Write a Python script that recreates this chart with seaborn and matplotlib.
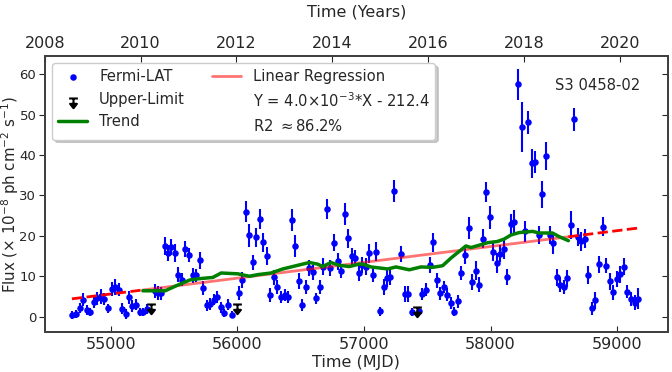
import numpy as np
import matplotlib
matplotlib.use("Agg")
import matplotlib.pyplot as plt
from matplotlib.path import Path
import seaborn as sns

# ---------------- data ----------------
mjd = [54695, 54726, 54755, 54785, 54811, 54840, 54866, 54892, 54924, 54950,
       54979, 55010, 55034, 55063, 55092, 55118, 55147, 55171, 55203, 55229,
       55258, 55286, 55347, 55373, 55400, 55426, 55452, 55479, 55510, 55536,
       55565, 55591, 55620, 55649, 55676, 55704, 55730, 55760, 55786, 55815,
       55841, 55870, 55899, 55928, 55957, 56012, 56039, 56067, 56094, 56122,
       56149, 56177, 56207, 56233, 56262, 56291, 56317, 56346, 56375, 56401,
       56430, 56457, 56485, 56514, 56540, 56569, 56598, 56625, 56654, 56680,
       56709, 56735, 56764, 56793, 56822, 56848, 56877, 56903, 56932, 56958,
       56987, 57016, 57043, 57072, 57098, 57127, 57155, 57182, 57208, 57240,
       57263, 57295, 57321, 57350, 57376, 57434, 57460, 57489, 57518, 57545,
       57573, 57600, 57629, 57658, 57684, 57713, 57742, 57768, 57797, 57826,
       57852, 57881, 57910, 57936, 57965, 57994, 58020, 58050, 58076, 58102,
       58131, 58160, 58186, 58215, 58244, 58271, 58299, 58326, 58354, 58383,
       58409, 58438, 58468, 58494, 58523, 58549, 58578, 58606, 58633, 58662,
       58691, 58717, 58746, 58772, 58801, 58827, 58856, 58885, 58912, 58941,
       58969, 58996, 59024, 59054, 59080, 59109, 59138, 59164]
flux = [0.5, 0.7, 2.1, 4.2, 1.6, 1.1, 3.6, 4.6, 5.0, 4.4,
        2.1, 6.8, 7.3, 6.7, 2.0, 0.7, 4.8, 2.7, 3.0, 1.1,
        1.2, 1.9, 6.3, 5.8, 5.8, 17.5, 15.7, 17.2, 15.7, 10.4,
        9.1, 16.8, 15.3, 10.2, 10.2, 13.9, 7.1, 2.8, 3.1, 4.2,
        4.9, 2.3, 0.9, 3.0, 0.5, 5.8, 9.1, 26.0, 20.1, 13.4,
        19.6, 24.2, 18.4, 15.0, 5.3, 9.7, 7.3, 4.8, 5.3, 4.8,
        23.9, 17.5, 8.9, 2.8, 7.3, 12.0, 11.0, 4.5, 7.3, 12.4,
        26.6, 12.0, 18.3, 13.7, 11.3, 25.4, 19.4, 14.9, 14.5, 10.9,
        12.8, 12.4, 15.7, 10.4, 16.1, 1.3, 7.3, 9.6, 9.7, 31.1,
        48.0, 15.5, 5.6, 5.6, 1.2, 1.5, 5.6, 6.7, 12.7, 18.4,
        9.0, 5.8, 7.3, 5.4, 3.4, 1.2, 3.8, 10.8, 15.3, 22.0,
        8.6, 11.4, 7.9, 19.3, 30.8, 24.6, 16.0, 13.3, 15.6, 16.7,
        9.8, 22.9, 23.5, 57.5, 47.0, 21.1, 48.1, 37.9, 38.2, 20.2,
        30.3, 39.7, 20.2, 18.2, 9.7, 7.9, 7.4, 9.5, 22.7, 48.8,
        19.8, 18.6, 19.3, 10.4, 2.1, 4.0, 13.0, 22.3, 12.6, 8.7,
        6.0, 9.3, 10.5, 12.4, 6.2, 4.4, 3.5, 4.4]
flux_err = [1.0, 1.0, 1.2, 1.6, 1.2, 1.0, 1.4, 1.6, 1.9, 1.5,
            1.1, 1.7, 1.9, 1.6, 1.3, 1.2, 1.6, 1.5, 1.4, 1.0,
            1.0, 1.2, 1.8, 1.8, 1.6, 2.2, 2.0, 2.0, 2.3, 1.8,
            1.6, 2.0, 1.8, 1.9, 1.7, 2.0, 1.8, 1.3, 1.5, 1.4,
            1.5, 1.3, 1.0, 1.3, 0.8, 1.8, 2.0, 2.5, 2.8, 1.9,
            2.4, 2.5, 2.3, 2.3, 1.7, 1.9, 1.8, 1.5, 1.5, 1.5,
            2.7, 2.8, 2.0, 1.5, 1.8, 2.0, 1.9, 1.4, 1.8, 2.1,
            2.4, 1.9, 2.1, 2.1, 1.8, 2.7, 2.4, 2.0, 2.0, 2.0,
            1.9, 2.0, 2.4, 1.9, 2.4, 1.1, 2.0, 2.2, 1.9, 2.7,
            4.5, 2.0, 1.9, 1.9, 1.0, 1.0, 1.5, 1.6, 2.0, 2.3,
            1.8, 1.6, 1.5, 1.6, 1.4, 1.1, 1.6, 1.8, 2.2, 2.7,
            1.9, 2.3, 1.8, 2.3, 2.5, 2.9, 2.2, 2.4, 2.1, 2.4,
            2.0, 2.6, 2.9, 3.8, 6.2, 2.6, 2.8, 3.6, 2.7, 2.2,
            3.3, 3.5, 2.3, 2.8, 2.0, 1.8, 1.7, 2.1, 3.5, 2.9,
            2.2, 2.4, 2.3, 2.2, 1.6, 2.0, 2.1, 2.3, 1.9, 2.2,
            1.9, 1.9, 2.1, 2.2, 1.6, 1.8, 1.9, 2.6]

ul_mjd = [55323, 55996, 57416]
ul_flux = [3.2, 3.2, 2.5]

trend_mjd = [55255, 55431, 55523, 55628, 55702, 55807, 55873, 56004, 56096,
             56162, 56267, 56359, 56464, 56569, 56635, 56674, 56740, 56806,
             56885, 56963, 56990, 57056, 57187, 57253, 57358, 57450, 57542,
             57621, 57687, 57766, 57805, 57845, 57923, 57976, 58054, 58107,
             58160, 58225, 58331, 58383, 58488, 58541, 58614]
trend_flux = [6.4, 6.4, 7.7, 9.1, 9.4, 9.7, 10.8, 10.6, 10.0,
              10.4, 10.8, 11.8, 12.6, 13.4, 13.0, 12.4, 13.4, 12.7,
              12.4, 13.0, 13.0, 12.3, 11.8, 12.3, 11.6, 12.3, 12.2,
              12.6, 14.5, 16.5, 17.5, 17.1, 17.8, 18.3, 18.6, 19.2,
              20.2, 20.8, 21.1, 20.7, 20.7, 19.8, 18.8]

fit_slope = 3.92e-3
fit_intercept = -210.0

year_ticks = [2008, 2010, 2012, 2014, 2016, 2018, 2020]
mjd_ticks = [55000, 56000, 57000, 58000, 59000]
flux_ticks = [0, 10, 20, 30, 40, 50, 60]
source_name = "S3 0458-02"
fit_label = "Y = 4.0$\\times$10$^{-3}$*X - 212.4"
r2_label = "R2 $\\approx$86.2%"

# ---------------- figure ----------------
sns.set_style("ticks")
plt.rcParams["font.family"] = ["DejaVu Sans"]
plt.rcParams["axes.edgecolor"] = "0.25"
plt.rcParams["axes.linewidth"] = 1.2

fig = plt.figure(figsize=(6.72, 3.72), dpi=100)
ax = fig.add_axes([0.0665, 0.1075, 0.9275, 0.742])

FS = 11.5
YFS = 9.5
LFS = 10.6

# upper-limit marker: bar on top, stem, filled arrow head below
ul_marker = Path(
    [(-0.45, 0.0), (0.45, 0.0), (0.0, 0.0), (0.0, -0.55),
     (-0.35, -0.55), (0.35, -0.55), (0.0, -1.0), (-0.35, -0.55)],
    [Path.MOVETO, Path.LINETO, Path.MOVETO, Path.LINETO,
     Path.MOVETO, Path.LINETO, Path.LINETO, Path.CLOSEPOLY])

# error bars
ax.errorbar(mjd, flux, yerr=flux_err, fmt="none", ecolor="b",
            elinewidth=1.5, zorder=2)
# points
sns.scatterplot(x=mjd, y=flux, color="b", s=22, linewidth=0,
                label="Fermi-LAT", ax=ax, zorder=3)
# upper limits
ax.plot(ul_mjd, ul_flux, ls="none", marker=ul_marker, ms=14, mfc="k",
        mec="k", mew=1.5, label="Upper-Limit", zorder=3)

# linear regression
fit_x = np.array([trend_mjd[0], trend_mjd[-1]])
ax.plot(fit_x, fit_slope * fit_x + fit_intercept, color="red", alpha=0.55,
        lw=2, label="Linear Regression", zorder=4)
left_x = np.array([mjd[0], trend_mjd[0]])
right_x = np.array([trend_mjd[-1], mjd[-1]])
ax.plot(left_x, fit_slope * left_x + fit_intercept, color="red", ls="--",
        lw=2, zorder=4)
ax.plot(right_x, fit_slope * right_x + fit_intercept, color="red", ls="--",
        lw=2, zorder=4)

# trend
sns.lineplot(x=trend_mjd, y=trend_flux, color="green", lw=2.5, label="Trend",
             ax=ax, zorder=5)

ax.plot([], [], " ", label=fit_label)
ax.plot([], [], " ", label=r2_label)

ax.set_xlim(54480, 59400)
ax.set_ylim(-3.8, 64.5)
ax.set_xticks(mjd_ticks)
ax.set_yticks(flux_ticks)
ax.tick_params(axis="x", direction="in", length=4, labelsize=FS)
ax.tick_params(axis="y", direction="out", length=4, labelsize=YFS, pad=2)
ax.set_xlabel("Time (MJD)", fontsize=FS, labelpad=2)
ax.set_ylabel("Flux ($\\times$ 10$^{-8}$ ph cm$^{-2}$ s$^{-1}$)",
              fontsize=10.8)
ax.yaxis.set_label_coords(-0.038, 0.5)

ax.text(0.955, 0.894, source_name, transform=ax.transAxes, ha="right",
        va="center", fontsize=LFS)

# legend
handles, labels = ax.get_legend_handles_labels()
order = ["Fermi-LAT", "Upper-Limit", "Trend", "Linear Regression", fit_label,
         r2_label]
hmap = dict(zip(labels, handles))
leg = ax.legend([hmap[k] for k in order], order, ncol=2, loc="upper left",
                fontsize=LFS, frameon=True, fancybox=True,
                shadow={"color": "k", "alpha": 0.18},
                framealpha=1, edgecolor="0.8", columnspacing=1.8,
                bbox_to_anchor=(0.0, 1.0), borderaxespad=0.5)
leg.set_zorder(10)

# right ticks (inward)
axr = ax.twinx()
axr.set_ylim(ax.get_ylim())
axr.set_yticks(flux_ticks)
axr.tick_params(axis="y", direction="in", length=4, labelright=False)

# top axis in years
axt = ax.twiny()
axt.set_xlim(2008, 2021)
axt.set_xticks(year_ticks)
axt.tick_params(axis="x", direction="in", length=4, labelsize=FS)
axt.set_xlabel("Time (Years)", fontsize=FS, labelpad=14)

fig.savefig("out.png", dpi=100)
